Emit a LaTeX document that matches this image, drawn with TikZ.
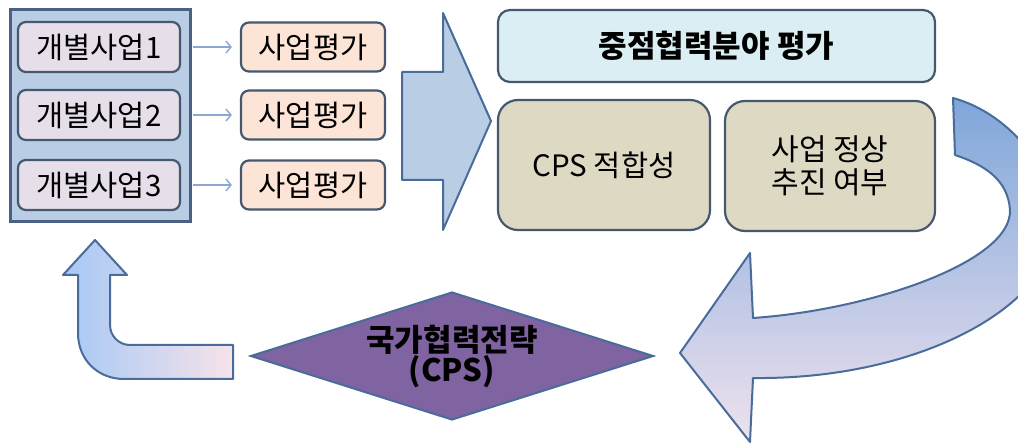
\documentclass[tikz,border=0pt]{standalone}
\usepackage{fontspec}
\newfontfamily\krfont{Noto Sans CJK KR}
\usetikzlibrary{shapes.geometric,arrows.meta,positioning}

\definecolor{boxline}{HTML}{46586E}
\definecolor{groupfill}{HTML}{B9CDE5}
\definecolor{groupline}{HTML}{4A6184}
\definecolor{projfill}{HTML}{E6DFEA}
\definecolor{evalfill}{HTML}{FCE5D6}
\definecolor{headfill}{HTML}{DBEEF4}
\definecolor{critfill}{HTML}{DDD9C3}
\definecolor{cpsfill}{HTML}{8064A2}
\definecolor{flowline}{HTML}{4A6C9A}
\definecolor{thinarrow}{HTML}{8AA8D0}
\definecolor{arrowblue}{HTML}{7FA6DA}
\definecolor{arrowmid}{HTML}{AECAEE}
\definecolor{arrowpale}{HTML}{EEE2EE}
\definecolor{elbowleft}{HTML}{A6C8F5}
\definecolor{elbowmid}{HTML}{94BFF5}
\definecolor{elbowright}{HTML}{F7E3EA}

\tikzset{
  proj/.style={rectangle, rounded corners=8pt, draw=boxline, line width=2.2pt,
    fill=projfill, minimum width=162pt, minimum height=50pt, inner sep=0pt},
  evalbox/.style={proj, fill=evalfill, minimum width=144pt, minimum height=49pt},
  critbox/.style={rectangle, rounded corners=20pt, draw=boxline, line width=2.2pt,
    fill=critfill, minimum height=130pt, inner sep=0pt, align=center},
  thin flow/.style={draw=thinarrow, line width=1.4pt,
    -{Straight Barb[length=5pt,width=12pt]}, shorten <=12pt, shorten >=8pt},
  block arrow/.style={draw=flowline, line width=2pt, line join=round}
}

\begin{document}
\begin{tikzpicture}[x=1pt, y=-1pt, font=\krfont\fontsize{29.5}{34}\selectfont]

    \useasboundingbox (0,0) rectangle (1018,446);
    \clip (0,0) rectangle (1018,446);

    % group of single projects
    \node [rectangle, draw=groupline, line width=3pt, fill=groupfill,
      minimum width=180pt, minimum height=212pt] (group) at (100,116) {};

    \node [proj] (p1) at (99,47) {개별사업1};
    \node [proj] (p2) at (99,115) {개별사업2};
    \node [proj] (p3) at (99,185) {개별사업3};

    \node [evalbox] (e1) at (313,47) {사업평가};
    \node [evalbox] (e2) at (313,115) {사업평가};
    \node [evalbox] (e3) at (313,185) {사업평가};

    \foreach \i in {1,2,3}
      \draw [thin flow] (p\i.east) -- (e\i.west);

    % big arrow to the sector evaluation
    \draw [block arrow, fill=groupfill]
      (402,72) -- (443,72) -- (443,13) -- (491,121) -- (443,230)
      -- (443,180) -- (402,180) -- cycle;

    \node [rectangle, rounded corners=12pt, draw=boxline, line width=2.2pt,
      fill=headfill, minimum width=437pt, minimum height=72pt,
      font=\krfont\bfseries\fontsize{31}{36}\selectfont]
      (sector) at (716.5,46) {중점협력분야 평가};

    \node [critbox, minimum width=212pt] (fit) at (604,165) {CPS 적합성};
    \node [critbox, minimum width=210pt, font=\krfont\fontsize{30}{33}\selectfont]
      (run) at (830,166) {사업 정상\\추진 여부};

    % curved arrow back to the strategy
    \draw [block arrow, top color=arrowblue, middle color=arrowmid, bottom color=arrowpale]
      (955,155) -- (953,98)
      .. controls (1005,112) and (1055,165) .. (1055,225)
      .. controls (1055,305) and (920,380) .. (753,378)
      -- (750,442) -- (680,353) -- (750,253) -- (753,318)
      .. controls (870,310) and (1012,262) .. (1010,210)
      .. controls (1008,180) and (985,165) .. (955,155) -- cycle;

    \node [diamond, aspect=3.15, draw=flowline, line width=2pt, fill=cpsfill,
      minimum width=403pt, minimum height=128pt, inner sep=0pt, align=center,
      font=\krfont\bfseries\fontsize{31}{30}\selectfont]
      (cps) at (452,356) {국가협력전략\\(CPS)};

    % elbow arrow up to the projects
    \draw [block arrow, left color=elbowleft, middle color=elbowmid, right color=elbowright]
      (95,240) -- (127,275) -- (110,275) -- (110,325)
      .. controls (110,336) and (119,345) .. (130,345)
      -- (233,345) -- (233,379) -- (124,379)
      .. controls (98,379) and (78,360) .. (78,333)
      -- (78,275) -- (63,275) -- cycle;

  \end{tikzpicture}
\end{document}
